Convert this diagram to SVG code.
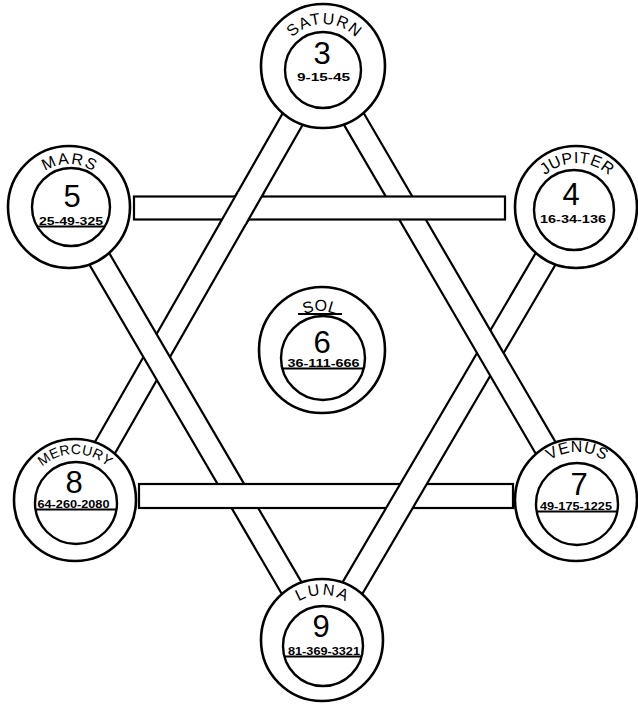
<svg xmlns="http://www.w3.org/2000/svg" width="638" height="706" viewBox="0 0 638 706">
<defs>
<style>
.band{fill:#fff;stroke:#000;stroke-width:2.2;stroke-linejoin:miter}
.patch{fill:#fff;stroke:none}
.edge{stroke:#000;stroke-width:2.2;fill:none}
.outer{fill:#fff;stroke:#000;stroke-width:2.6}
.inner{fill:none;stroke:#000;stroke-width:2.4}
.name{font-family:"Liberation Sans",Arial,sans-serif;font-size:16px;fill:#000}
.num{font-family:"Liberation Sans",Arial,sans-serif;font-size:31px;fill:#000;text-anchor:middle}
.sq{font-family:"Liberation Sans",Arial,sans-serif;font-size:10px;font-weight:bold;fill:#000;text-anchor:middle}
.chord{stroke:#000;stroke-width:2}
</style>
<path id="arc-saturn" d="M280,68 A44,44 0 0 1 368,68"/>
<path id="arc-mars" d="M25,208 A44,44 0 0 1 113,208"/>
<path id="arc-jupiter" d="M530,210 A47,47 0 0 1 624,210"/>
<path id="arc-sol" d="M281,350 A39,39 0 0 1 359,350"/>
<path id="arc-mercury" d="M26,503 A49,49 0 0 1 124,503"/>
<path id="arc-venus" d="M529,500 A48,48 0 0 1 625,500"/>
<path id="arc-luna" d="M277,640 A45,45 0 0 1 367,640"/>
</defs>
<rect width="638" height="706" fill="#fff"/>
<g id="connectors">
<polygon id="band-saturn-mercury" class="band" points="333,71.7 85,505.7 65,494.3 313,60.3"/>
<polygon id="band-mars-luna" class="band" points="78.9,201.2 331.9,634.2 312.1,645.8 59.1,212.8"/>
<rect id="band-mercury-venus" class="band" x="139" y="484" width="374" height="24"/>
<polygon id="band-jupiter-luna" class="band" points="585.9,212.8 331.9,645.8 312.1,634.2 566.1,201.2"/>
<polygon id="band-saturn-venus" class="band" points="332.9,60.2 585.9,494.2 566.1,505.8 313.1,71.8"/>
<rect id="band-mars-jupiter" class="band" x="134" y="196.5" width="371" height="23"/>
<g id="band-saturn-mercury-over">
<polygon class="patch" points="237.75,192 264.26,192 245.97,224 219.46,224"/>
<line class="edge" x1="237.75" y1="192" x2="219.46" y2="224"/>
<line class="edge" x1="264.26" y1="192" x2="245.97" y2="224"/>
</g>
</g>
<g id="node-saturn">
<circle class="outer" cx="323" cy="66" r="62"/>
<circle class="inner" cx="323" cy="70" r="38"/>
<text class="name"><textPath href="#arc-saturn" startOffset="50%" text-anchor="middle" textLength="71">SATURN</textPath></text>
<text class="num" x="322" y="64">3</text>
<text class="sq" x="323.5" y="81" textLength="53" lengthAdjust="spacingAndGlyphs">9-15-45</text>
</g>
<g id="node-mars">
<circle class="outer" cx="69" cy="207" r="61"/>
<circle class="inner" cx="71" cy="207" r="39"/>
<text class="name"><textPath href="#arc-mars" startOffset="50%" text-anchor="middle" textLength="51">MARS</textPath></text>
<text class="num" x="72" y="207">5</text>
<text class="sq" x="71" y="225" textLength="64" lengthAdjust="spacingAndGlyphs">25-49-325</text>
<line class="chord" x1="37" y1="226.5" x2="105" y2="226.5"/>
</g>
<g id="node-jupiter">
<circle class="outer" cx="576" cy="207" r="61"/>
<circle class="inner" cx="574" cy="210" r="40"/>
<text class="name"><textPath href="#arc-jupiter" startOffset="50%" text-anchor="middle" textLength="70">JUPITER</textPath></text>
<text class="num" x="571" y="205">4</text>
<text class="sq" x="573" y="223" textLength="66" lengthAdjust="spacingAndGlyphs">16-34-136</text>
</g>
<g id="node-sol">
<circle class="outer" cx="322" cy="350" r="63"/>
<circle class="inner" cx="323" cy="358" r="42"/>
<text class="name"><textPath href="#arc-sol" startOffset="50%" text-anchor="middle">SOL</textPath></text>
<line class="chord" x1="298" y1="314" x2="342" y2="314"/>
<text class="num" x="322" y="353">6</text>
<text class="sq" x="323.5" y="367" textLength="72" lengthAdjust="spacingAndGlyphs">36-111-666</text>
<line class="chord" x1="282.3" y1="368.5" x2="363.7" y2="368.5"/>
</g>
<g id="node-mercury">
<circle class="outer" cx="75" cy="500" r="61"/>
<circle class="inner" cx="76" cy="503" r="41"/>
<text class="name" style="font-size:14px"><textPath href="#arc-mercury" startOffset="50%" text-anchor="middle" textLength="72">MERCURY</textPath></text>
<text class="num" x="74" y="493">8</text>
<text class="sq" x="73.5" y="508" textLength="72" lengthAdjust="spacingAndGlyphs">64-260-2080</text>
<line class="chord" x1="35.5" y1="509.5" x2="116.5" y2="509.5"/>
</g>
<g id="node-venus">
<circle class="outer" cx="576" cy="500" r="61"/>
<circle class="inner" cx="577" cy="504" r="41"/>
<text class="name"><textPath href="#arc-venus" startOffset="50%" text-anchor="middle" textLength="58">VENUS</textPath></text>
<text class="num" x="579" y="495">7</text>
<text class="sq" x="576" y="510" textLength="72" lengthAdjust="spacingAndGlyphs">49-175-1225</text>
<line class="chord" x1="536.7" y1="511.5" x2="617.3" y2="511.5"/>
</g>
<g id="node-luna">
<circle class="outer" cx="322" cy="640" r="61"/>
<circle class="inner" cx="323" cy="646" r="40"/>
<text class="name"><textPath href="#arc-luna" startOffset="50%" text-anchor="middle" textLength="49">LUNA</textPath></text>
<text class="num" x="321" y="637">9</text>
<text class="sq" x="324" y="655" textLength="72" lengthAdjust="spacingAndGlyphs">81-369-3321</text>
<line class="chord" x1="284.4" y1="656.5" x2="361.6" y2="656.5"/>
</g>
</svg>
